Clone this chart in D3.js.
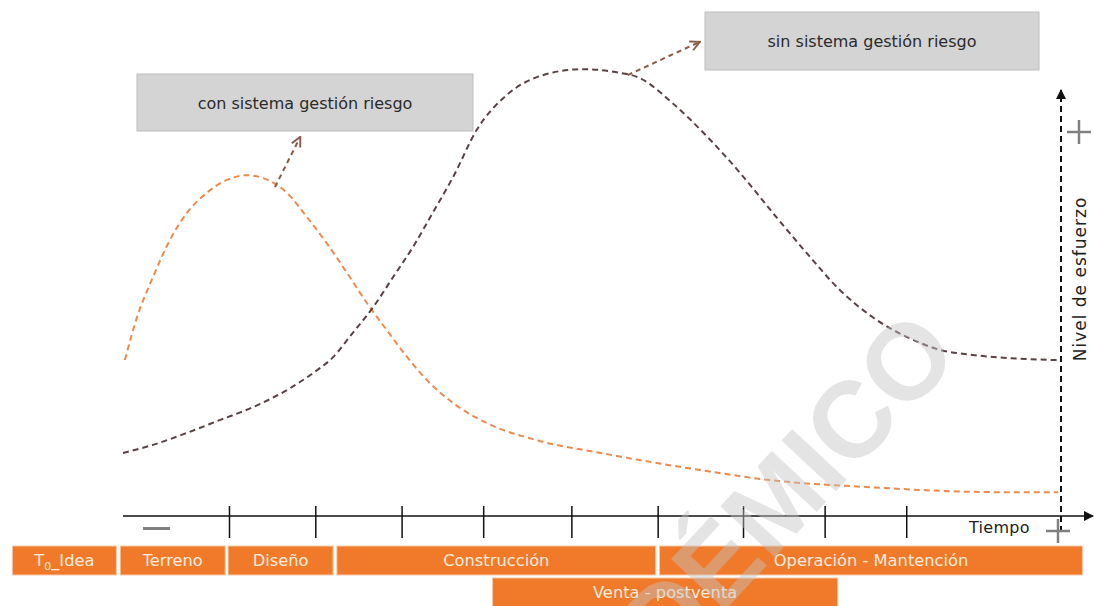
<!DOCTYPE html>
<html>
<head>
<meta charset="utf-8">
<script src="https://cdn.jsdelivr.net/npm/d3@7"></script>
<style>
  body { margin: 0; background: #fff; }
  svg { display: block; font-family: "DejaVu Sans", "Liberation Sans", Arial, sans-serif; }
</style>
</head>
<body>
<svg></svg>
<script>
// time axis (0 = start, 100 = end) and effort (0..100)
let conTime   = [0.2, 1.5, 3.2, 5.0, 6.8, 8.9, 11.1, 13.2, 15.4, 17.5, 19.6, 21.7, 23.9, 26.0, 28.1, 30.3, 32.4, 35.2, 38.8, 44.1, 50.9, 61.5, 68.7, 79.3, 93.5, 99.7]
let conEffort = [36.6, 46.7, 56.1, 64.8, 71.1, 75.8, 78.9, 80.0, 78.9, 75.8, 70.2, 64.1, 57.0, 50.0, 43.7, 37.3, 31.9, 26.5, 21.8, 17.8, 14.8, 10.8, 8.5, 6.8, 5.6, 5.6]

let sinTime   = [0, 3.2, 6.8, 10.3, 13.9, 17.5, 20.3, 22.4, 24.5, 26.7, 28.8, 30.9, 33.0, 35.2, 37.7, 40.9, 44.5, 49.0, 52.5, 55.1, 58.6, 62.3, 65.8, 69.3, 72.9, 76.4, 79.9, 83.6, 87.1, 90.6, 94.2, 99.6]
let sinEffort = [14.8, 16.7, 19.5, 22.5, 25.6, 29.6, 33.6, 37.3, 43.0, 49.1, 56.1, 63.1, 71.1, 79.6, 90.6, 98.8, 103.3, 104.9, 104.2, 102.8, 96.9, 89.0, 80.5, 71.1, 61.7, 53.1, 46.7, 42.0, 39.0, 37.8, 37.1, 36.6]

let tickTimes = [11.3, 20.5, 29.7, 38.4, 47.8, 57.0, 66.1, 74.8, 83.5]

let phaseNames = ['T0_Idea', 'Terreno', 'Diseño', 'Construcción', 'Operación - Mantención', 'Venta - postventa']
let phaseStart = [-11.8, -0.3, 11.2, 22.8, 57.2, 39.4]
let phaseEnd   = [-0.7, 10.9, 22.4, 56.8, 102.3, 76.2]
let phaseRow   = [0, 0, 0, 0, 0, 1]

let labelCon = 'con sistema gestión riesgo'
let labelSin = 'sin sistema gestión riesgo'

let width = 1094
let height = 606

let svg = d3.select('svg').attr('width', width).attr('height', height)

let xscale = d3.scaleLinear().domain([0, 100]).range([123, 1061])
let yscale = d3.scaleLinear().domain([0, 100]).range([516, 90])

let defs = svg.append('defs')
defs.append('marker')
    .attr('id', 'openArrow')
    .attr('viewBox', '0 0 10 10')
    .attr('refX', 9).attr('refY', 5)
    .attr('markerWidth', 12).attr('markerHeight', 12)
    .attr('markerUnits', 'userSpaceOnUse')
    .attr('orient', 'auto')
    .append('path')
    .attr('d', 'M1,1 L9,5 L1,9')
    .attr('fill', 'none')
    .attr('stroke', '#8a5a48')
    .attr('stroke-width', 1.6)

defs.append('marker')
    .attr('id', 'solidArrow')
    .attr('viewBox', '0 0 10 10')
    .attr('refX', 9).attr('refY', 5)
    .attr('markerWidth', 12).attr('markerHeight', 10)
    .attr('markerUnits', 'userSpaceOnUse')
    .attr('orient', 'auto')
    .append('path')
    .attr('d', 'M0,0 L10,5 L0,10 Z')
    .attr('fill', '#111')

// boxes
let drawBox = (x, y, w, h, label) => {
    svg.append('rect')
        .attr('x', x).attr('y', y).attr('width', w).attr('height', h)
        .attr('fill', '#d4d4d4').attr('stroke', '#bdbdbd').attr('stroke-width', 1)
    svg.append('text')
        .attr('x', x + w / 2).attr('y', y + h / 2 + 6)
        .attr('text-anchor', 'middle')
        .attr('font-size', 16)
        .attr('fill', '#2b2b2b')
        .text(label)
}
drawBox(137, 74, 336, 57, labelCon)
drawBox(705, 12, 334, 58, labelSin)

// curves
let line = d3.line()
    .x(d => xscale(d[0]))
    .y(d => yscale(d[1]))
    .curve(d3.curveMonotoneX)

svg.append('path')
    .datum(d3.zip(conTime, conEffort))
    .attr('d', line)
    .attr('fill', 'none')
    .attr('stroke', '#ee8a4c')
    .attr('stroke-width', 2)
    .attr('stroke-dasharray', '6,4')

svg.append('path')
    .datum(d3.zip(sinTime, sinEffort))
    .attr('d', line)
    .attr('fill', 'none')
    .attr('stroke', '#5a4242')
    .attr('stroke-width', 2)
    .attr('stroke-dasharray', '6,4')

// small arrows from curves to boxes
let pointers = [[[16.2, 77.2], [18.9, 89.0]], [[53.8, 103.5], [61.5, 111.3]]]
pointers.forEach(p => {
    svg.append('line')
        .attr('x1', xscale(p[0][0])).attr('y1', yscale(p[0][1]))
        .attr('x2', xscale(p[1][0])).attr('y2', yscale(p[1][1]))
        .attr('stroke', '#8a5a48')
        .attr('stroke-width', 2)
        .attr('stroke-dasharray', '5,4')
        .attr('marker-end', 'url(#openArrow)')
})

// time axis
let xAxis = d3.axisBottom(xscale)
    .tickValues(tickTimes)
    .tickSizeInner(22)
    .tickSizeOuter(0)
    .tickFormat('')
let gx = svg.append('g')
    .attr('transform', 'translate(0,516)')
    .call(xAxis)
gx.select('.domain').remove()
gx.selectAll('.tick line')
    .attr('y1', -10)
    .attr('stroke', '#111')
    .attr('stroke-width', 1.5)
svg.append('line')
    .attr('x1', xscale(0)).attr('x2', 1093)
    .attr('y1', 516).attr('y2', 516)
    .attr('stroke', '#111').attr('stroke-width', 1.5)
    .attr('marker-end', 'url(#solidArrow)')

// effort axis
svg.append('line')
    .attr('x1', xscale(100)).attr('x2', xscale(100))
    .attr('y1', 532).attr('y2', yscale(100))
    .attr('stroke', '#111').attr('stroke-width', 2)
    .attr('stroke-dasharray', '6,4')
    .attr('marker-end', 'url(#solidArrow)')

svg.append('text')
    .attr('transform', 'translate(1086,279) rotate(-90)')
    .attr('text-anchor', 'middle')
    .attr('font-size', 17)
    .attr('letter-spacing', 1)
    .attr('fill', '#222')
    .text('Nivel de esfuerzo')

svg.append('text')
    .attr('x', 969).attr('y', 533)
    .attr('font-size', 16)
    .attr('letter-spacing', 0.3)
    .attr('fill', '#222')
    .text('Tiempo')

// minus / plus signs
svg.append('rect').attr('x', 143).attr('y', 527).attr('width', 27).attr('height', 3).attr('fill', '#7f7f7f')
let plus = (cx, cy) => {
    svg.append('line').attr('x1', cx - 12).attr('x2', cx + 12).attr('y1', cy).attr('y2', cy)
        .attr('stroke', '#808080').attr('stroke-width', 2.5)
    svg.append('line').attr('x1', cx).attr('x2', cx).attr('y1', cy - 12).attr('y2', cy + 12)
        .attr('stroke', '#808080').attr('stroke-width', 2.5)
}
plus(1058, 531)
plus(1079, 132)

// phase bars
let rowY = [546, 578]
let barH = 29
let phases = phaseNames.map((n, i) => ({ name: n, s: phaseStart[i], e: phaseEnd[i], row: phaseRow[i] }))

svg.selectAll('.phase')
    .data(phases)
    .enter()
    .append('rect')
    .attr('class', 'phase')
    .attr('x', d => xscale(d.s))
    .attr('y', d => rowY[d.row])
    .attr('width', d => xscale(d.e) - xscale(d.s))
    .attr('height', barH)
    .attr('fill', '#f07a2a')
    .attr('stroke', '#f6c9a8')
    .attr('stroke-width', 1)

let phaseText = svg.selectAll('.phase-label')
    .data(phases)
    .enter()
    .append('text')
    .attr('class', 'phase-label')
    .attr('x', d => (xscale(d.s) + xscale(d.e)) / 2)
    .attr('y', d => rowY[d.row] + 20)
    .attr('text-anchor', 'middle')
    .attr('font-size', 16.3)
    .attr('fill', '#fdebdc')

phaseText.each(function (d) {
    let t = d3.select(this)
    if (d.name.startsWith('T0')) {
        t.append('tspan').text('T')
        t.append('tspan').attr('font-size', 11).attr('dy', 4).text('0')
        t.append('tspan').attr('dy', -4).text(d.name.slice(2))
    } else {
        t.text(d.name)
    }
})

// watermark
svg.append('text')
    .attr('transform', 'translate(962,356) rotate(-47)')
    .attr('text-anchor', 'end')
    .attr('font-family', '"Liberation Sans", Arial, sans-serif')
    .attr('font-size', 108)
    .attr('font-weight', 'bold')
    .attr('fill', '#c4c4c4')
    .attr('opacity', 0.45)
    .text('ACADÉMICO')
</script>
</body>
</html>
